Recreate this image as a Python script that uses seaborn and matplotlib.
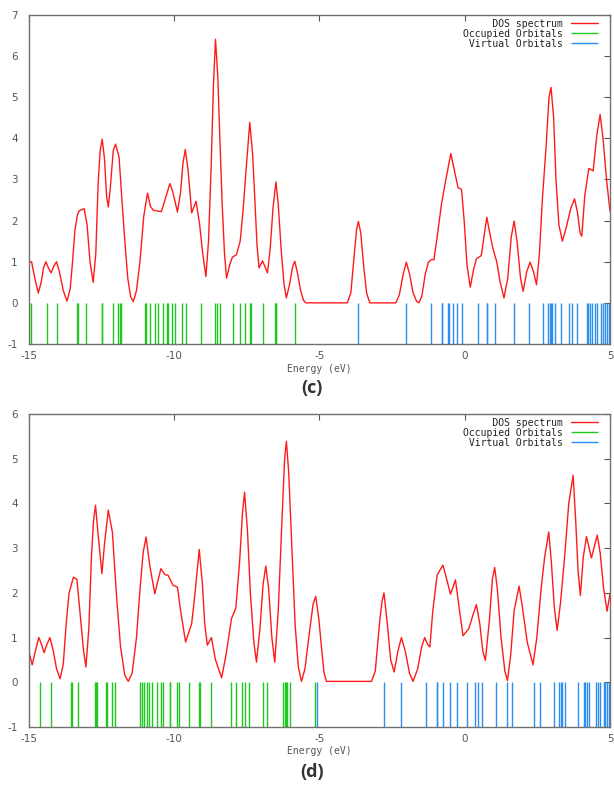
"""
DOS spectra, panels (c) and (d)
"""

import seaborn as sns
import matplotlib
matplotlib.use("Agg")
import matplotlib.pyplot as plt

# ---- panel (c) ----
c_dos_e = [-15.00, -14.91, -14.80, -14.68, -14.58, -14.50, -14.42, -14.33, -14.24, -14.14,
           -14.05, -13.95, -13.82, -13.69, -13.58, -13.50, -13.42, -13.33, -13.27, -13.10,
           -13.00, -12.90, -12.79, -12.70, -12.62, -12.55, -12.48, -12.40, -12.33, -12.27,
           -12.20, -12.10, -12.02, -11.90, -11.80, -11.70, -11.60, -11.50, -11.41, -11.30,
           -11.18, -11.05, -10.92, -10.82, -10.72, -10.44, -10.30, -10.15, -10.05, -9.89,
           -9.78, -9.70, -9.62, -9.52, -9.40, -9.25, -9.13, -9.02, -8.91, -8.82,
           -8.73, -8.65, -8.58, -8.50, -8.43, -8.35, -8.27, -8.20, -8.08, -8.00,
           -7.86, -7.73, -7.63, -7.52, -7.40, -7.30, -7.22, -7.15, -7.08, -6.96,
           -6.79, -6.70, -6.60, -6.50, -6.42, -6.32, -6.22, -6.14, -6.03, -5.92,
           -5.85, -5.75, -5.65, -5.55, -5.47, -4.04, -3.92, -3.80, -3.72, -3.66,
           -3.58, -3.48, -3.38, -3.27, -2.37, -2.25, -2.12, -2.01, -1.90, -1.78,
           -1.66, -1.58, -1.48, -1.36, -1.25, -1.15, -1.06, -0.95, -0.80, -0.65,
           -0.48, -0.38, -0.23, -0.11, -0.02, 0.08, 0.19, 0.30, 0.40, 0.57,
           0.68, 0.76, 0.86, 0.97, 1.10, 1.22, 1.35, 1.48, 1.60, 1.70,
           1.80, 1.92, 2.01, 2.13, 2.25, 2.37, 2.47, 2.57, 2.67, 2.80,
           2.90, 2.97, 3.06, 3.14, 3.24, 3.36, 3.50, 3.65, 3.78, 3.88,
           3.97, 4.03, 4.13, 4.27, 4.42, 4.55, 4.66, 4.76, 4.88, 5.00]
c_dos_y = [0.99, 1.00, 0.60, 0.24, 0.50, 0.85, 1.00, 0.85, 0.73, 0.90,
           1.00, 0.75, 0.30, 0.04, 0.35, 1.00, 1.76, 2.15, 2.24, 2.29,
           1.90, 1.00, 0.50, 1.20, 2.90, 3.70, 3.98, 3.50, 2.60, 2.33,
           2.80, 3.70, 3.86, 3.55, 2.50, 1.50, 0.60, 0.15, 0.03, 0.30,
           1.00, 2.10, 2.67, 2.35, 2.25, 2.22, 2.55, 2.90, 2.70, 2.21,
           2.70, 3.40, 3.73, 3.20, 2.19, 2.47, 1.93, 1.20, 0.64, 1.50,
           3.30, 5.30, 6.41, 5.50, 4.00, 2.40, 1.20, 0.60, 0.95, 1.11,
           1.17, 1.50, 2.25, 3.30, 4.39, 3.60, 2.40, 1.40, 0.85, 1.02,
           0.73, 1.30, 2.30, 2.94, 2.40, 1.30, 0.45, 0.12, 0.45, 0.90,
           1.01, 0.70, 0.30, 0.06, 0.00, 0.00, 0.25, 1.20, 1.80, 1.98,
           1.70, 0.90, 0.25, 0.00, 0.00, 0.20, 0.70, 0.99, 0.70, 0.25,
           0.04, 0.00, 0.15, 0.70, 0.99, 1.05, 1.05, 1.60, 2.41, 3.00,
           3.63, 3.30, 2.80, 2.76, 2.00, 0.90, 0.38, 0.80, 1.07, 1.15,
           1.70, 2.08, 1.70, 1.32, 1.00, 0.50, 0.12, 0.60, 1.60, 1.99,
           1.50, 0.60, 0.28, 0.75, 0.99, 0.75, 0.44, 1.20, 2.50, 3.80,
           5.00, 5.24, 4.50, 3.00, 1.90, 1.50, 1.85, 2.30, 2.53, 2.20,
           1.70, 1.62, 2.60, 3.27, 3.21, 4.10, 4.58, 4.00, 3.00, 2.23]
c_occupied = [-14.99, -14.94, -14.39, -14.05, -13.36, -13.30, -13.04, -12.50, -12.47, -12.10,
              -11.93, -11.87, -11.83, -11.01, -10.97, -10.84, -10.67, -10.55, -10.40, -10.24,
              -10.21, -10.06, -9.98, -9.75, -9.61, -9.08, -8.60, -8.54, -8.41, -7.99,
              -7.74, -7.55, -7.40, -7.36, -6.94, -6.54, -6.50, -6.48, -5.85]
c_virtual = [-3.66, -2.01, -1.15, -0.80, -0.77, -0.57, -0.54, -0.40, -0.25, -0.08,
             0.44, 0.75, 0.78, 1.04, 1.70, 2.22, 2.71, 2.87, 2.94, 2.97,
             3.00, 3.10, 3.33, 3.58, 3.69, 3.86, 4.20, 4.24, 4.30, 4.39,
             4.47, 4.56, 4.68, 4.76, 4.84, 4.91, 4.97]

# ---- panel (d) ----
d_dos_e = [-15.00, -14.89, -14.78, -14.66, -14.57, -14.48, -14.38, -14.28, -14.18, -14.05,
           -13.93, -13.82, -13.72, -13.62, -13.47, -13.35, -13.25, -13.12, -13.04, -12.94,
           -12.85, -12.78, -12.71, -12.62, -12.49, -12.40, -12.27, -12.13, -11.98, -11.85,
           -11.70, -11.58, -11.45, -11.30, -11.18, -11.07, -10.97, -10.84, -10.67, -10.46,
           -10.32, -10.21, -10.04, -9.89, -9.78, -9.61, -9.40, -9.30, -9.14, -9.03,
           -8.95, -8.86, -8.72, -8.58, -8.37, -8.22, -8.03, -7.88, -7.75, -7.65,
           -7.58, -7.48, -7.38, -7.26, -7.17, -7.05, -6.94, -6.85, -6.75, -6.64,
           -6.54, -6.42, -6.30, -6.20, -6.14, -6.06, -5.95, -5.84, -5.73, -5.62,
           -5.50, -5.35, -5.22, -5.13, -5.02, -4.92, -4.84, -4.76, -3.21, -3.08,
           -2.93, -2.85, -2.78, -2.68, -2.55, -2.43, -2.30, -2.18, -2.05, -1.90,
           -1.78, -1.62, -1.48, -1.38, -1.28, -1.20, -1.10, -0.95, -0.75, -0.62,
           -0.49, -0.32, -0.20, -0.06, 0.14, 0.28, 0.40, 0.52, 0.62, 0.71,
           0.85, 0.95, 1.03, 1.12, 1.25, 1.38, 1.47, 1.58, 1.70, 1.87,
           1.98, 2.15, 2.35, 2.48, 2.63, 2.75, 2.89, 2.98, 3.08, 3.18,
           3.30, 3.45, 3.58, 3.73, 3.82, 3.90, 3.98, 4.08, 4.19, 4.36,
           4.56, 4.66, 4.78, 4.90, 5.00]
d_dos_y = [0.68, 0.39, 0.70, 1.00, 0.85, 0.66, 0.85, 1.00, 0.75, 0.30,
           0.08, 0.40, 1.30, 2.00, 2.35, 2.30, 1.60, 0.70, 0.34, 1.20,
           2.80, 3.60, 3.96, 3.30, 2.43, 3.10, 3.85, 3.36, 1.87, 0.80,
           0.15, 0.02, 0.20, 1.00, 2.07, 2.90, 3.25, 2.60, 1.98, 2.54,
           2.41, 2.39, 2.17, 2.13, 1.60, 0.90, 1.31, 1.90, 2.97, 2.20,
           1.30, 0.83, 1.00, 0.50, 0.10, 0.60, 1.42, 1.66, 2.70, 3.80,
           4.25, 3.40, 2.00, 0.90, 0.45, 1.20, 2.20, 2.60, 2.10, 1.00,
           0.45, 1.60, 3.50, 5.00, 5.39, 4.70, 3.00, 1.30, 0.35, 0.02,
           0.30, 1.10, 1.75, 1.92, 1.40, 0.70, 0.20, 0.02, 0.02, 0.25,
           1.35, 1.80, 2.00, 1.40, 0.50, 0.23, 0.70, 1.00, 0.70, 0.20,
           0.02, 0.30, 0.80, 1.00, 0.85, 0.79, 1.60, 2.40, 2.62, 2.30,
           1.97, 2.29, 1.70, 1.04, 1.20, 1.50, 1.74, 1.30, 0.70, 0.49,
           1.40, 2.30, 2.57, 2.10, 1.00, 0.25, 0.04, 0.60, 1.60, 2.15,
           1.70, 0.90, 0.39, 1.00, 2.10, 2.80, 3.36, 2.70, 1.70, 1.16,
           1.80, 2.90, 4.00, 4.63, 3.60, 2.50, 1.94, 2.80, 3.26, 2.78,
           3.29, 2.90, 2.10, 1.59, 1.98]
d_occupied = [-14.62, -14.25, -13.57, -13.53, -13.30, -12.73, -12.69, -12.65, -12.35, -12.31,
              -12.13, -12.04, -11.18, -11.12, -11.04, -10.95, -10.87, -10.78, -10.61, -10.44,
              -10.40, -10.15, -10.13, -9.90, -9.84, -9.48, -9.15, -9.12, -8.72, -8.06,
              -7.86, -7.66, -7.57, -7.42, -6.94, -6.82, -6.27, -6.19, -6.16, -6.11,
              -6.00, -5.16]
d_virtual = [-5.10, -2.78, -2.20, -1.35, -0.97, -0.94, -0.75, -0.52, -0.25, 0.09,
             0.34, 0.46, 0.60, 1.09, 1.46, 1.61, 2.37, 2.60, 3.07, 3.25,
             3.30, 3.35, 3.44, 3.90, 4.11, 4.15, 4.21, 4.27, 4.53, 4.59,
             4.66, 4.79, 4.84, 4.91, 4.95]

RED = "#ff1a1a"
GREEN = "#1ec81e"
BLUE = "#2b8ef0"
GREY = "#555555"


def draw_panel(ax, dos_e, dos_y, occ, virt, ymax, tag, fig, tag_y, label_y, h_px):
    sns.lineplot(x=dos_e, y=dos_y, ax=ax, color=RED, lw=1.0, sort=False,
                 estimator=None, label="     DOS spectrum")
    ax.vlines(occ, -1, 0, color=GREEN, lw=1.0, label="Occupied Orbitals")
    ax.vlines(virt, -1, 0, color=BLUE, lw=1.0, label=" Virtual Orbitals")
    ax.set_xlim(-15, 5)
    ax.set_ylim(-1, ymax)
    ax.set_xticks([-15, -10, -5, 0, 5])
    ax.set_yticks(range(-1, ymax + 1))
    ax.tick_params(direction="in", length=4, width=0.8, colors=GREY,
                   labelsize=7.5, top=True, right=True, pad=5)
    ax.tick_params(axis="y", pad=8)
    for s in ax.spines.values():
        s.set_color("#707070")
        s.set_linewidth(1.0)
    ax.set_xlabel("")
    ax.set_ylabel("")
    fig.text(0.52, label_y, "Energy (eV)", ha="center", va="center",
             family="DejaVu Sans Mono", fontsize=7, color=GREY)
    fig.text(0.508, tag_y, tag, ha="center", va="center",
             family="Open Sans", fontweight="bold", fontsize=13, color="#333333")
    leg = ax.legend(loc="upper right", frameon=False, markerfirst=False,
                    bbox_to_anchor=(1 - 5 / 581, 1 + 3 / h_px),
                    prop={"family": "DejaVu Sans Mono", "size": 7},
                    handlelength=2.8, handletextpad=0.8, labelspacing=0.0,
                    borderaxespad=0.3)
    for t in leg.get_texts():
        t.set_color("#222222")


def main():
    sns.set_style("white")
    plt.rcParams["axes.unicode_minus"] = False
    fig = plt.figure(figsize=(6.14, 7.85), dpi=100)
    ax_c = fig.add_axes([0.0472, 0.5618, 0.9463, 0.4191])
    ax_d = fig.add_axes([0.0472, 0.0739, 0.9463, 0.3987])
    draw_panel(ax_c, c_dos_e, c_dos_y, c_occupied, c_virtual, 7, "(c)", fig,
               1 - 388 / 785, 1 - 369 / 785, 329)
    draw_panel(ax_d, d_dos_e, d_dos_y, d_occupied, d_virtual, 6, "(d)", fig,
               1 - 772 / 785, 1 - 751 / 785, 313)
    fig.savefig("out.png", dpi=100)


if __name__ == "__main__":
    main()
